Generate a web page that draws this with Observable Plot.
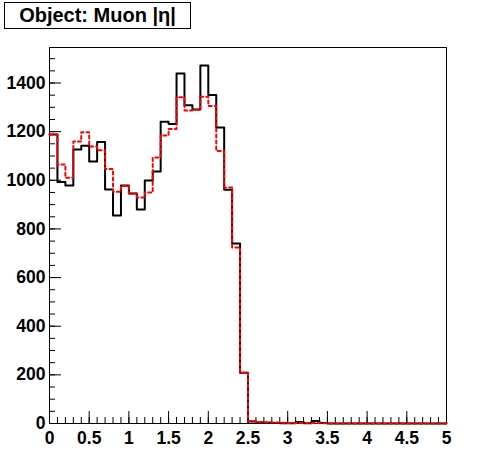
<!DOCTYPE html>
<html>
<head>
<meta charset="utf-8">
<script src="https://cdn.jsdelivr.net/npm/d3@7"></script>
<script src="https://cdn.jsdelivr.net/npm/@observablehq/plot@0.6"></script>
<style>
  html, body { margin: 0; padding: 0; background: #fff; }
  #wrap { position: relative; width: 496px; height: 472px; }
  #title {
    position: absolute; left: 4px; top: 2px; width: 187px; height: 27px;
    border: 1px solid #000; box-sizing: border-box; background: #fff;
    font-family: "Liberation Sans", Arial, Helvetica, sans-serif; font-weight: bold;
    font-size: 20px; line-height: 25px; text-align: center; color: #000; white-space: nowrap;
  }
</style>
</head>
<body>
<div id="wrap"><div id="title">Object: Muon |η|</div></div>
<script>
// Bin edges: 50 bins of width 0.1 from 0 to 5
const binWidth = 0.1;
const blackCounts = [1188, 993, 979, 1127, 1142, 1077, 1157, 962, 855, 979,
                     946, 880, 999, 1036, 1241, 1231, 1439, 1309, 1291, 1472,
                     1351, 1217, 961, 740, 209, 8, 4, 3, 2, 1,
                     1, 6, 1, 10, 2, 0, 0, 0, 0, 0,
                     0, 0, 0, 0, 0, 0, 0, 0, 0, 0];
const redCounts = [1188, 1065, 1010, 1159, 1198, 1139, 1124, 1046, 953, 977,
                   946, 929, 950, 1094, 1184, 1211, 1341, 1287, 1290, 1344,
                   1305, 1120, 970, 724, 209, 10, 6, 5, 4, 3,
                   2, 2, 2, 2, 1, 0, 0, 0, 0, 0,
                   0, 0, 0, 0, 0, 0, 0, 0, 0, 0];
const xMajor = [0, 0.5, 1, 1.5, 2, 2.5, 3, 3.5, 4, 4.5, 5];
const xMinor = d3.range(0, 51).map(i => i / 10);
const yMajor = [0, 200, 400, 600, 800, 1000, 1200, 1400];
const yMinor = d3.range(0, 31).map(i => i * 50);
const yMax = 1546;

function steps(counts) {
  const pts = counts.map((v, i) => ({x: i * binWidth, y: v}));
  pts.push({x: counts.length * binWidth, y: counts[counts.length - 1]});
  return pts;
}

const W = 496, H = 472, mL = 49, mR = 50, mT = 47, mB = 49;
const frameW = W - mL - mR, frameH = H - mT - mB;

const chart = Plot.plot({
  width: W, height: H,
  marginLeft: mL, marginRight: mR, marginTop: mT, marginBottom: mB,
  style: {fontFamily: "'Liberation Sans', Arial, Helvetica, sans-serif", fontSize: "17.5px", fontWeight: "bold", background: "#fff", color: "#000"},
  x: {domain: [0, 5]},
  y: {domain: [0, yMax]},
  marks: [
    Plot.frame({stroke: "#000", strokeWidth: 1}),
    Plot.tickX(xMinor, {x: d => d, insetTop: frameH - 6, stroke: "#000"}),
    Plot.tickX(xMajor, {x: d => d, insetTop: frameH - 12, stroke: "#000"}),
    Plot.tickY(yMinor, {y: d => d, insetRight: frameW - 6, stroke: "#000"}),
    Plot.tickY(yMajor, {y: d => d, insetRight: frameW - 12, stroke: "#000"}),
    Plot.axisX(xMajor, {tickSize: 0, tickPadding: 8, tickFormat: d => String(d), label: null, fill: "#000"}),
    Plot.axisY(yMajor, {tickSize: 0, tickPadding: 4, tickFormat: d => String(d), label: null, fill: "#000"}),
    Plot.line(steps(blackCounts), {x: "x", y: "y", curve: "step-after", stroke: "#000", strokeWidth: 2}),
    Plot.line(steps(redCounts), {x: "x", y: "y", curve: "step-after", stroke: "#ff0000", strokeWidth: 2, strokeDasharray: "3,3"})
  ]
});
document.getElementById("wrap").prepend(chart);
chart.style.position = "absolute";
chart.style.left = "0";
chart.style.top = "0";
</script>
</body>
</html>
